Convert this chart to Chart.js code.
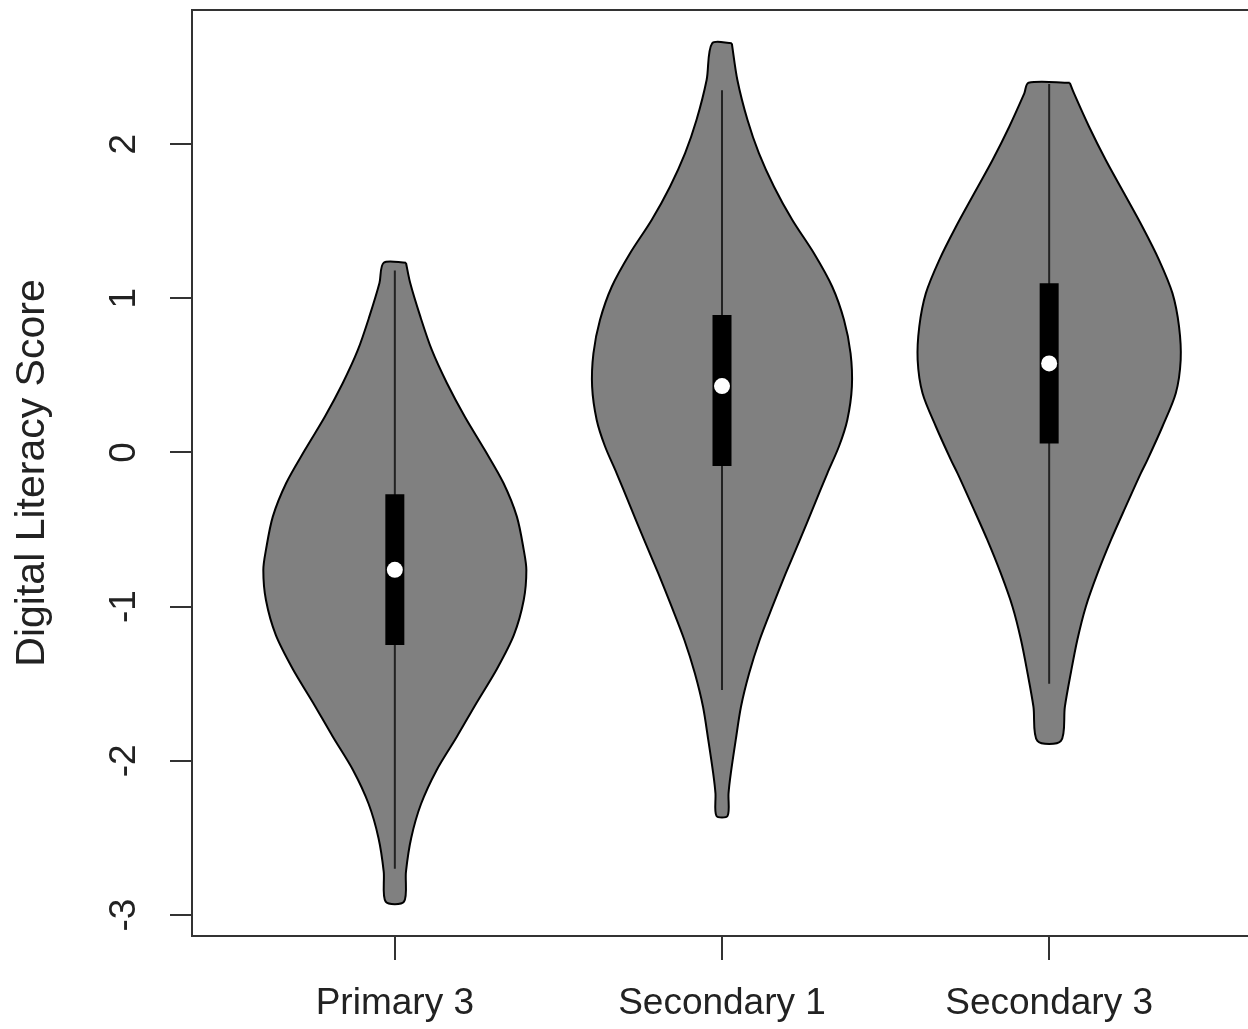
<!DOCTYPE html>
<html>
<head>
<meta charset="utf-8">
<title>Digital Literacy Score</title>
<script src="https://cdn.jsdelivr.net/npm/chart.js@4.4.1/dist/chart.umd.min.js"></script>
<style>
  html, body { margin: 0; padding: 0; background: #fff; overflow: hidden; }
  #wrap { position: relative; width: 1252px; height: 1029px; }
  canvas { display: block; }
</style>
</head>
<body>
<div id="wrap"><canvas id="violinChart" width="1252" height="1029"></canvas></div>
<script>
// Groups and y axis ticks
const categories = ['Primary 3', 'Secondary 1', 'Secondary 3'];
const yTicks = [-3, -2, -1, 0, 1, 2];

// Violin outlines: score levels (top to bottom) and half widths
const p3Levels = [1.231, 1.099, 0.881, 0.665, 0.451, 0.232, 0.016, -0.198, -0.416, -0.632, -0.762, -0.957, -1.183, -1.404, -1.623, -1.842, -2.059, -2.280, -2.500, -2.718, -2.913];
const p3Widths = [0.034, 0.047, 0.078, 0.113, 0.159, 0.214, 0.275, 0.332, 0.373, 0.394, 0.402, 0.394, 0.364, 0.312, 0.250, 0.190, 0.128, 0.080, 0.050, 0.034, 0.028];

const s1Levels = [2.654, 2.416, 2.156, 1.940, 1.724, 1.508, 1.292, 1.075, 0.859, 0.643, 0.427, 0.211, 0.042, -0.135, -0.351, -0.567, -0.783, -1.000, -1.216, -1.432, -1.649, -1.864, -2.080, -2.210, -2.357];
const s1Widths = [0.030, 0.047, 0.078, 0.113, 0.159, 0.215, 0.281, 0.337, 0.373, 0.393, 0.397, 0.383, 0.358, 0.322, 0.280, 0.238, 0.195, 0.154, 0.115, 0.083, 0.058, 0.042, 0.027, 0.020, 0.017];

const s3Levels = [2.398, 2.329, 2.113, 1.897, 1.681, 1.464, 1.248, 1.032, 0.816, 0.600, 0.384, 0.167, -0.049, -0.135, -0.351, -0.567, -0.783, -1.000, -1.216, -1.432, -1.649, -1.871];
const s3Widths = [0.063, 0.076, 0.122, 0.173, 0.229, 0.285, 0.336, 0.377, 0.397, 0.402, 0.387, 0.346, 0.300, 0.280, 0.234, 0.189, 0.148, 0.112, 0.086, 0.066, 0.048, 0.036];

// Box plot stats per group
const whiskerLow  = [-2.70, -1.54, -1.50];
const q1          = [-1.248, -0.088, 0.059];
const median      = [-0.761, 0.431, 0.578];
const q3          = [-0.271, 0.892, 1.097];
const whiskerHigh = [1.18, 2.35, 2.39];

const profiles = [
  { levels: p3Levels, widths: p3Widths },
  { levels: s1Levels, widths: s1Widths },
  { levels: s3Levels, widths: s3Widths }
];

const FONT = "'Liberation Sans', Arial, Helvetica, sans-serif";

// closed outline: down the right side, back up the left side
function outline(center, levels, widths) {
  const right = levels.map((y, i) => ({ x: center + widths[i], y: y }));
  const left = levels.map((y, i) => ({ x: center - widths[i], y: y })).reverse();
  return right.concat(left, [right[0]]);
}

const datasets = [];
profiles.forEach((p, i) => {
  const c = i + 1;
  datasets.push({
    label: categories[i],
    data: outline(c, p.levels, p.widths),
    fill: 'shape',
    backgroundColor: '#808080',
    borderColor: '#000',
    borderWidth: 2,
    pointRadius: 0,
    tension: 0.3,
    order: 3
  });
  datasets.push({
    data: [{ x: c, y: whiskerLow[i] }, { x: c, y: whiskerHigh[i] }],
    borderColor: '#222',
    borderWidth: 2,
    pointRadius: 0,
    fill: false,
    order: 2
  });
  datasets.push({
    data: [{ x: c, y: q1[i] }, { x: c, y: q3[i] }],
    borderColor: '#000',
    borderWidth: 19,
    borderCapStyle: 'butt',
    pointRadius: 0,
    fill: false,
    order: 1
  });
  datasets.push({
    data: [{ x: c, y: median[i] }],
    showLine: false,
    pointRadius: 8,
    pointBackgroundColor: '#fff',
    pointBorderWidth: 0,
    order: 0
  });
});

// box around the plot region
const frame = {
  id: 'frame',
  beforeDatasetsDraw(chart) {
    const { ctx, chartArea: a } = chart;
    ctx.save();
    ctx.strokeStyle = '#333';
    ctx.lineWidth = 2;
    ctx.strokeRect(a.left, a.top, a.right - a.left, a.bottom - a.top);
    ctx.restore();
  }
};

// drop the label overhang padding so the plot box keeps its place
function noPadding(s) {
  s.paddingLeft = 0; s.paddingRight = 0; s.paddingTop = 0; s.paddingBottom = 0;
}

const ctx = document.getElementById('violinChart').getContext('2d');
const violinChart = new Chart(ctx, {
  type: 'line',
  data: { datasets: datasets },
  plugins: [frame],
  options: {
    responsive: false,
    devicePixelRatio: 1,
    animation: false,
    layout: { autoPadding: false, padding: { top: 10, right: 0, bottom: 0, left: 0 } },
    scales: {
      x: {
        type: 'linear',
        min: 0.38,
        max: 3.62,
        afterBuildTicks: s => { s.ticks = categories.map((c, i) => ({ value: i + 1 })); },
        afterFit: s => { s.height = 93; noPadding(s); },
        ticks: {
          callback: v => categories[v - 1],
          autoSkip: false,
          maxRotation: 0,
          padding: 22,
          color: '#222',
          font: { family: FONT, size: 37 }
        },
        grid: { drawOnChartArea: false, tickLength: 24, color: '#333', lineWidth: 2 },
        border: { display: false }
      },
      y: {
        min: -3.136,
        max: 2.870,
        afterBuildTicks: s => { s.ticks = yTicks.map(v => ({ value: v })); },
        afterFit: s => { s.width = 192; noPadding(s); },
        ticks: {
          minRotation: 90,
          maxRotation: 90,
          crossAlign: 'center',
          padding: 29,
          color: '#222',
          font: { family: FONT, size: 37 }
        },
        grid: { drawOnChartArea: false, tickLength: 22, color: '#333', lineWidth: 2 },
        border: { display: false },
        title: {
          display: true,
          text: 'Digital Literacy Score',
          color: '#222',
          padding: { top: 8, bottom: 0 },
          font: { family: FONT, size: 41 }
        }
      }
    },
    plugins: {
      legend: { display: false },
      tooltip: { enabled: false }
    }
  }
});
</script>
</body>
</html>
